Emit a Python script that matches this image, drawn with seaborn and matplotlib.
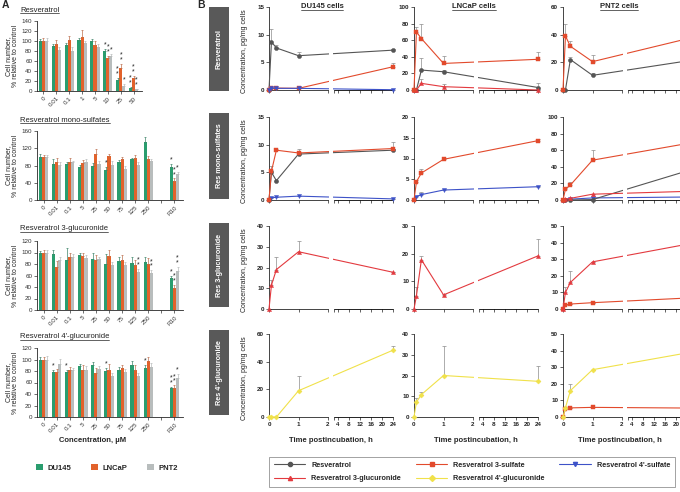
import numpy as np
import pandas as pd
import matplotlib
matplotlib.use("Agg")
import matplotlib.pyplot as plt
import seaborn as sns
from matplotlib.patches import Rectangle, Patch
from matplotlib.lines import Line2D
from matplotlib.container import BarContainer

# ================= Panel A data (cell number, % of control) =================
CELL_LINES = ["DU145", "LNCaP", "PNT2"]
BAR_COLORS = ["#2a9d6e", "#e2622b", "#b8bdbd"]

A1_CONC = ["0", "0.01", "0.1", "1", "5", "10", "25", "50"]
A1_DU145 = [100, 91, 92, 102, 101, 81, 22, 7]
A1_LNCAP = [100, 95, 102, 109, 93, 66, 46, 26]
A1_PNT2 = [100, 83, 81, 96, 89, 71, 11, 4]
A1_DU145_ERR = [4, 4, 4, 4, 3, 3, 4, 2]
A1_LNCAP_ERR = [6, 8, 8, 13, 8, 4, 8, 4]
A1_PNT2_ERR = [7, 5, 7, 4, 5, 3, 3, 1]
A1_DU145_SIG = ["", "", "", "", "", "*", "**", "**"]
A1_LNCAP_SIG = ["", "", "", "", "", "**", "**", "**"]
A1_PNT2_SIG = ["", "", "", "", "", "*", "*", "**"]

A_CONC = ["0", "0.01", "0.1", "5", "25", "50", "75", "125", "250", "R10"]

A2_DU145 = [100, 84, 83, 77, 78, 70, 88, 94, 135, 77]
A2_LNCAP = [100, 87, 89, 86, 106, 102, 95, 98, 95, 45]
A2_PNT2 = [100, 82, 87, 88, 83, 82, 72, 81, 90, 60]
A2_DU145_ERR = [6, 10, 6, 4, 8, 6, 4, 4, 12, 6]
A2_LNCAP_ERR = [5, 10, 8, 6, 12, 5, 4, 6, 6, 5]
A2_PNT2_ERR = [5, 5, 4, 6, 8, 8, 8, 8, 6, 5]
A2_DU145_SIG = ["", "", "", "", "", "*", "", "", "", "*"]
A2_LNCAP_SIG = ["", "", "", "", "", "", "", "", "", "**"]
A2_PNT2_SIG = ["", "", "", "", "", "", "", "", "", "*"]

A3_DU145 = [100, 98, 87, 95, 89, 80, 85, 81, 84, 55]
A3_LNCAP = [100, 75, 92, 94, 87, 94, 87, 79, 80, 39]
A3_PNT2 = [100, 87, 92, 91, 88, 79, 78, 66, 64, 68]
A3_DU145_ERR = [3, 7, 20, 5, 10, 18, 8, 12, 8, 5]
A3_LNCAP_ERR = [5, 10, 8, 5, 8, 10, 8, 8, 10, 5]
A3_PNT2_ERR = [5, 5, 5, 5, 5, 5, 5, 5, 5, 7]
A3_DU145_SIG = ["", "", "", "", "", "", "", "", "", "*"]
A3_LNCAP_SIG = ["", "", "", "", "", "", "", "", "", "**"]
A3_PNT2_SIG = ["", "", "", "", "", "", "", "**", "**", "**"]

A4_DU145 = [100, 79, 79, 88, 91, 80, 82, 91, 85, 50]
A4_LNCAP = [100, 78, 82, 81, 77, 82, 86, 82, 97, 50]
A4_PNT2 = [100, 92, 81, 81, 84, 71, 78, 72, 87, 67]
A4_DU145_ERR = [4, 3, 3, 4, 5, 5, 5, 7, 5, 3]
A4_LNCAP_ERR = [5, 5, 5, 10, 8, 10, 5, 8, 7, 5]
A4_PNT2_ERR = [6, 9, 5, 8, 5, 5, 5, 5, 7, 8]
A4_DU145_SIG = ["", "*", "*", "", "", "*", "", "", "*", "**"]
A4_LNCAP_SIG = ["", "", "", "", "", "", "", "", "", "**"]
A4_PNT2_SIG = ["", "", "", "", "", "", "", "", "", "*"]

# ================= Panel B data (pg/mg cells) =================
TIMES = [0, 0.083, 0.25, 1, 24]
RES = "Resveratrol"
S3 = "Resveratrol 3-sulfate"
S4 = "Resveratrol 4'-sulfate"
G3 = "Resveratrol 3-glucuronide"
G4 = "Resveratrol 4'-glucuronide"
SERIES_COLORS = {RES: "#555555", S3: "#e24a2c", S4: "#3d52c8", G3: "#e33a3f", G4: "#f0e14a"}
SERIES_MARKERS = {RES: "o", S3: "s", S4: "v", G3: "^", G4: "D"}

# Row 1: resveratrol treatment
r1_du_res = [0, 8.7, 7.6, 6.2, 7.2];     r1_du_res_err = [0, 2.4, 0.5, 0.6, 0.2]
r1_du_s3 = [0, 0.4, 0.35, 0.3, 4.2];     r1_du_s3_err = [0, 0, 0, 0, 0.6]
r1_du_s4 = [0, 0.3, 0.3, 0.3, 0.05];     r1_du_s4_err = [0, 0, 0, 0, 0]
r1_ln_s3 = [0, 70, 62, 32, 37];          r1_ln_s3_err = [0, 6, 18, 9, 9]
r1_ln_res = [0, 0, 24, 22, 3];           r1_ln_res_err = [0, 0, 14, 2, 5]
r1_ln_g3 = [0, 0, 8, 4, 0];              r1_ln_g3_err = [0, 0, 5, 3, 0]
r1_pn_s3 = [0, 39, 31.6, 20.5, 37];      r1_pn_s3_err = [0, 9, 4, 4.5, 0]
r1_pn_res = [0, 0, 22, 10.6, 21];        r1_pn_res_err = [0, 0, 2, 2, 0]
# Row 2: mono-sulfates treatment
r2_du_s3 = [0, 5.2, 9.0, 8.5, 9.3];      r2_du_s3_err = [0, 1.0, 0.2, 0.7, 1.2]
r2_du_res = [0, 5.0, 3.5, 8.3, 9.0];     r2_du_res_err = [0, 0.4, 0, 0.3, 0.3]
r2_du_s4 = [0, 0.4, 0.5, 0.7, 0.2];      r2_du_s4_err = [0, 0, 0, 0, 0]
r2_ln_s3 = [0, 4.4, 6.5, 9.8, 14.3];     r2_ln_s3_err = [0, 0.5, 1.0, 0.3, 0.3]
r2_ln_s4 = [0, 0.8, 1.3, 2.4, 3.2];      r2_ln_s4_err = [0, 0.2, 0.7, 0.2, 0.2]
r2_pn_s3 = [0, 13, 18, 48, 68];          r2_pn_s3_err = [0, 2, 4, 12, 0]
r2_pn_res = [0, 0, 0, 0.5, 35];          r2_pn_res_err = [0, 0, 0, 0, 0]
r2_pn_g3 = [0, 1, 2, 7, 10.4];           r2_pn_g3_err = [0, 0, 0, 0, 0]
r2_pn_s4 = [0, 0.5, 1, 2.5, 3.6];        r2_pn_s4_err = [0, 0, 0, 1.5, 0]
# Row 3: 3-glucuronide treatment
r3_du_g3 = [0, 11.5, 19, 27.6, 17.7];    r3_du_g3_err = [0, 2.5, 6, 5, 0.3]
r3_ln_g3 = [0, 4.8, 17.8, 5.1, 19.2];    r3_ln_g3_err = [0, 3, 1.4, 0.3, 6]
r3_pn_g3 = [0, 10, 16, 28.4, 39];        r3_pn_g3_err = [0, 3, 7, 0, 0]
r3_pn_s3 = [0, 2.4, 3, 3.8, 6.6];        r3_pn_s3_err = [0, 0, 0, 0, 0]
# Row 4: 4'-glucuronide treatment
r4_du_g4 = [0, 0, 0, 19, 48.3];          r4_du_g4_err = [0, 0, 0, 11, 2.7]
r4_ln_g4 = [0, 7.2, 10.8, 20, 17.2];     r4_ln_g4_err = [0, 1.8, 1.2, 14, 7.3]
r4_pn_g4 = [0, 5.6, 15.9, 28.5, 38.6];   r4_pn_g4_err = [0, 0, 4, 0, 0]
r4_pn_s3 = [0, 5, 5.5, 5.8, 5.4];        r4_pn_s3_err = [0, 0, 0, 0, 0]

ROW_TITLES = ["Resveratrol", "Res mono-sulfates", "Res 3-glucuronide", "Res 4'-glucuronide"]
COL_TITLES = ["DU145 cells", "LNCaP cells", "PNT2 cells"]
YMAX = [[15, 100, 60], [15, 20, 100], [40, 30, 50], [60, 40, 50]]
YSTEP = [[5, 20, 20], [5, 5, 20], [10, 10, 10], [20, 10, 10]]

B_SERIES = {
    (0, 0): [(RES, r1_du_res, r1_du_res_err), (S3, r1_du_s3, r1_du_s3_err), (S4, r1_du_s4, r1_du_s4_err)],
    (0, 1): [(RES, r1_ln_res, r1_ln_res_err), (G3, r1_ln_g3, r1_ln_g3_err), (S3, r1_ln_s3, r1_ln_s3_err)],
    (0, 2): [(RES, r1_pn_res, r1_pn_res_err), (S3, r1_pn_s3, r1_pn_s3_err)],
    (1, 0): [(S4, r2_du_s4, r2_du_s4_err), (RES, r2_du_res, r2_du_res_err), (S3, r2_du_s3, r2_du_s3_err)],
    (1, 1): [(S4, r2_ln_s4, r2_ln_s4_err), (S3, r2_ln_s3, r2_ln_s3_err)],
    (1, 2): [(S4, r2_pn_s4, r2_pn_s4_err), (RES, r2_pn_res, r2_pn_res_err), (G3, r2_pn_g3, r2_pn_g3_err),
             (S3, r2_pn_s3, r2_pn_s3_err)],
    (2, 0): [(G3, r3_du_g3, r3_du_g3_err)],
    (2, 1): [(G3, r3_ln_g3, r3_ln_g3_err)],
    (2, 2): [(S3, r3_pn_s3, r3_pn_s3_err), (G3, r3_pn_g3, r3_pn_g3_err)],
    (3, 0): [(G4, r4_du_g4, r4_du_g4_err)],
    (3, 1): [(G4, r4_ln_g4, r4_ln_g4_err)],
    (3, 2): [(S3, r4_pn_s3, r4_pn_s3_err), (G4, r4_pn_g4, r4_pn_g4_err)],
}

# ================= Figure =================
W, H = 680, 492
sns.set_style("ticks")
plt.rcParams["font.family"] = ["Liberation Sans", "DejaVu Sans"]
plt.rcParams["axes.linewidth"] = 0.6
plt.rcParams["xtick.major.width"] = 0.5
plt.rcParams["ytick.major.width"] = 0.5
plt.rcParams["xtick.major.size"] = 2
plt.rcParams["ytick.major.size"] = 2
plt.rcParams["xtick.major.pad"] = 1.5
plt.rcParams["ytick.major.pad"] = 1.5

fig = plt.figure(figsize=(6.8, 4.92), dpi=100)
fig.patch.set_facecolor("white")


def px_axes(x0, y0, x1, y1):
    return fig.add_axes([x0 / W, 1 - y1 / H, (x1 - x0) / W, (y1 - y0) / H])


def ftext(x, y, s, **kw):
    return fig.text(x / W, 1 - y / H, s, **kw)


underlined = []

# ---------------- Panel A ----------------
A_PANELS = [
    ("Resveratrol", A1_CONC, [A1_DU145, A1_LNCAP, A1_PNT2], [A1_DU145_ERR, A1_LNCAP_ERR, A1_PNT2_ERR],
     [A1_DU145_SIG, A1_LNCAP_SIG, A1_PNT2_SIG], (37, 21, 142, 91), 140, 20, 10, False),
    ("Resveratrol mono-sulfates", A_CONC, [A2_DU145, A2_LNCAP, A2_PNT2], [A2_DU145_ERR, A2_LNCAP_ERR, A2_PNT2_ERR],
     [A2_DU145_SIG, A2_LNCAP_SIG, A2_PNT2_SIG], (37, 131, 183, 200), 160, 40, 120, True),
    ("Resveratrol 3-glucuronide", A_CONC, [A3_DU145, A3_LNCAP, A3_PNT2], [A3_DU145_ERR, A3_LNCAP_ERR, A3_PNT2_ERR],
     [A3_DU145_SIG, A3_LNCAP_SIG, A3_PNT2_SIG], (37, 241, 183, 310), 120, 20, 229, True),
    ("Resveratrol 4'-glucuronide", A_CONC, [A4_DU145, A4_LNCAP, A4_PNT2], [A4_DU145_ERR, A4_LNCAP_ERR, A4_PNT2_ERR],
     [A4_DU145_SIG, A4_LNCAP_SIG, A4_PNT2_SIG], (37, 348, 183, 417), 120, 20, 337, True),
]

for title, conc, vals, errs, sigs, box, ymax, ystep, ty, gap in A_PANELS:
    ax = px_axes(*box)
    rows = []
    for cl, v in zip(CELL_LINES, vals):
        for c, val in zip(conc, v):
            rows.append({"conc": c, "cell": cl, "value": val})
    df = pd.DataFrame(rows)
    order = conc[:-1] + [" ", conc[-1]] if gap else list(conc)
    sns.barplot(data=df, x="conc", y="value", hue="cell", order=order, hue_order=CELL_LINES,
                palette=BAR_COLORS, width=0.72, saturation=1, errorbar=None, legend=False,
                ax=ax, linewidth=0)
    bar_conts = [cn for cn in ax.containers if isinstance(cn, BarContainer)]
    for i, cont in enumerate(bar_conts):
        bars = sorted([b for b in cont.patches if b is not None], key=lambda b: b.get_x())
        xs = [b.get_x() + b.get_width() / 2 for b in bars]
        hs = [b.get_height() for b in bars]
        ax.errorbar(xs, hs, yerr=[np.zeros(len(hs)), errs[i]], fmt="none",
                    ecolor=sns.desaturate(BAR_COLORS[i], 0.6), elinewidth=0.5, capsize=1.0, capthick=0.5)
        for x, h, e, s in zip(xs, hs, errs[i], sigs[i]):
            if s:
                ax.text(x, h + e + 1, "\n".join(list(s)), ha="center", va="bottom", fontsize=5,
                        linespacing=0.55, color="#222222")
    ax.set_xlim(-0.5, len(order) - 0.35)
    ax.set_ylim(0, ymax)
    ax.set_yticks(np.arange(0, ymax + 1, ystep))
    ax.set_xlabel("")
    ax.set_ylabel("Cell number,\n% relative to control", fontsize=5, labelpad=2, linespacing=1.0)
    ax.tick_params(axis="both", labelsize=4.5, colors="#333333")
    plt.setp(ax.get_xticklabels(), rotation=45, ha="right", rotation_mode="anchor")
    sns.despine(ax=ax)
    t = ftext(20, ty, title, fontsize=5.5, va="center", ha="left", color="#222222")
    underlined.append(t)

ftext(93, 440, "Concentration, µM", fontsize=5.5, fontweight="bold", ha="center", va="center")
ftext(2, 5, "A", fontsize=7.5, fontweight="bold", va="center")
ftext(197, 5, "B", fontsize=7.5, fontweight="bold", va="center")

fig.legend(handles=[Patch(facecolor=c, edgecolor="none") for c in BAR_COLORS], labels=CELL_LINES,
           ncol=3, loc="center", bbox_to_anchor=(107 / W, 1 - 468 / H), frameon=False,
           prop={"size": 5.5, "weight": "bold"}, handlelength=0.9, handleheight=0.9,
           handletextpad=0.6, columnspacing=2.6)

# ---------------- Panel B ----------------


def fwd(x):
    x = np.asarray(x, dtype=float)
    return np.where(x <= 2, x, np.where(x <= 2.6, 2 + (x - 2) / 0.6 * 0.2, 2.2 + (x - 2.6) * (2 / 21.4)))


def inv(y):
    y = np.asarray(y, dtype=float)
    return np.where(y <= 2, y, np.where(y <= 2.2, 2 + (y - 2) / 0.2 * 0.6, 2.6 + (y - 2.2) * (21.4 / 2)))


COL_X0 = [269, 414, 563]
ROW_Y = [(7, 90), (117, 200), (226, 309), (334, 417)]
BOX_Y = [(7, 91), (113, 199), (223, 307), (330, 415)]
XT = [0, 1, 2, 2.6, 4, 8, 12, 16, 20, 24]
XTL = ["0", "1", "2", "", "4", "8", "12", "16", "20", "24"]
XTL_EDGE = ["0", "1", "2", "", "4", "8", "12", "16", "20", ""]

for r in range(4):
    y0, y1 = ROW_Y[r]
    for c in range(3):
        x0 = COL_X0[c]
        ax = px_axes(x0, y0, x0 + 124, y1)
        ax.set_xscale("function", functions=(fwd, inv))
        for name, v, e in B_SERIES[(r, c)]:
            col = SERIES_COLORS[name]
            ax.errorbar(TIMES, v, yerr=[np.zeros(len(e)), e], fmt="none", ecolor="#8c8c8c",
                        elinewidth=0.5, capsize=1.2, capthick=0.5, zorder=2, clip_on=False)
            sns.lineplot(x=TIMES, y=v, ax=ax, color=col, marker=SERIES_MARKERS[name],
                         markersize=3 if name != G4 else 2.6, markeredgecolor=col, markeredgewidth=0.3,
                         linewidth=0.8, clip_on=False, zorder=3)
        ax.axvspan(2.06, 2.55, color="white", lw=0, zorder=4)
        ax.set_xlim(0, 24)
        ym = YMAX[r][c]
        ax.set_ylim(0, ym)
        ax.set_yticks(np.arange(0, ym + 0.1, YSTEP[r][c]))
        ax.set_xticks(XT)
        if r == 3:
            ax.set_xticklabels(XTL_EDGE if c == 2 else XTL)
        else:
            ax.set_xticklabels([""] * len(XT))
        ax.set_xlabel("")
        ax.set_ylabel("")
        for lab in ax.get_yticklabels() + ax.get_xticklabels():
            lab.set_fontweight("bold")
        ax.tick_params(axis="both", labelsize=4.5, colors="#222222")
        sns.despine(ax=ax)
        ax.spines["bottom"].set_bounds(0, 2)
        ax.add_artist(Line2D([2.6, 24], [0, 0], transform=ax.get_xaxis_transform(), color="black",
                             lw=0.6, clip_on=False))
    # row label box
    by0, by1 = BOX_Y[r]
    fig.add_artist(Rectangle((209 / W, 1 - by1 / H), 20 / W, (by1 - by0) / H,
                             transform=fig.transFigure, facecolor="#595959", edgecolor="none"))
    ftext(219, (by0 + by1) / 2, ROW_TITLES[r], rotation=90, color="white", fontsize=5.2,
          fontweight="bold", ha="center", va="center")
    ftext(245, (y0 + y1) / 2 + 3, "Concentration, pg/mg cells", rotation=90, fontsize=5,
          ha="center", va="center", color="#222222")

for xc, title in zip([322, 474, 619], COL_TITLES):
    t = ftext(xc, 7, title, fontsize=5.5, fontweight="bold", ha="center", va="center")
    underlined.append(t)
for xc in [331, 476, 620]:
    ftext(xc, 440, "Time postincubation, h", fontsize=5.5, fontweight="bold", ha="center", va="center")

LEG_ORDER = [RES, G3, S3, G4, S4]
handles = [Line2D([0], [0], color=SERIES_COLORS[n], marker=SERIES_MARKERS[n], markersize=3,
                  markeredgecolor=SERIES_COLORS[n], lw=0.8) for n in LEG_ORDER]
leg = fig.legend(handles=handles, labels=LEG_ORDER, ncol=3, loc="lower left",
                 bbox_to_anchor=(265 / W, 1 / H, (679 - 265) / W, 31 / H), mode="expand",
                 frameon=True, fancybox=False, prop={"size": 5.2, "weight": "bold"},
                 handlelength=4.4, handletextpad=0.8, borderpad=0.7, labelspacing=0.9)
leg.get_frame().set_edgecolor("#777777")
leg.get_frame().set_linewidth(0.6)

# underline titles
fig.canvas.draw()
renderer = fig.canvas.get_renderer()
inv_fig = fig.transFigure.inverted()
for t in underlined:
    bb = t.get_window_extent(renderer)
    (fx0, fy0), (fx1, _) = inv_fig.transform([(bb.x0, bb.y0 + 0.3), (bb.x1, bb.y0)])
    fig.add_artist(Line2D([fx0, fx1], [fy0, fy0], transform=fig.transFigure, color="#222222", lw=0.5))

fig.savefig("out.png", dpi=100, facecolor="white")
